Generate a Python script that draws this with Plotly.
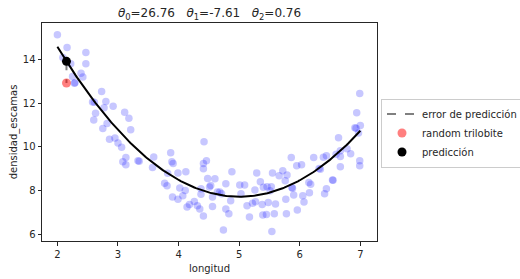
import plotly.graph_objects as go
import numpy as np

# data points (longitud, densidad_escamas)
longitud = [2.00, 2.16, 2.09, 2.47, 2.47, 2.22, 2.39, 2.42, 2.25, 2.28, 2.29,
            2.73, 2.58, 2.61, 2.80, 2.77, 2.92, 2.63, 2.60, 3.11, 3.18, 2.82,
            2.75, 3.21, 2.86, 2.95, 3.00, 3.06, 3.13, 3.08, 3.13, 3.33, 3.35,
            3.59, 3.57, 4.42, 3.87, 3.89, 3.91, 4.46, 4.41, 4.41, 3.82, 3.99,
            4.12, 4.88, 5.29, 3.77, 3.81, 4.02, 4.11, 4.07, 3.90, 3.99, 4.48,
            4.60, 4.37, 4.53, 4.51, 4.56, 4.64, 4.71, 4.68, 4.78, 4.86, 5.01,
            5.09, 5.03, 5.26, 5.35, 5.40, 5.13, 5.22, 5.27, 5.38, 5.17, 5.39,
            4.14, 4.18, 4.26, 4.31, 4.35, 4.41, 4.56, 4.78, 4.83, 4.74, 4.37,
            6.64, 6.97, 5.86, 5.95, 6.03, 6.23, 6.39, 6.44, 6.60, 6.67, 6.67,
            6.78, 6.84, 6.99, 6.99, 6.67, 6.34, 6.32, 6.54, 6.55, 6.44, 6.41,
            6.16, 6.15, 6.18, 6.05, 6.07, 5.96, 5.78, 5.77, 5.90, 5.87, 5.88,
            5.79, 5.72, 5.66, 5.55, 5.76, 5.53, 5.46, 5.51, 5.48, 5.60, 5.58,
            5.45, 5.54, 6.99, 6.94, 6.91, 7.00, 6.93]
densidad = [15.13, 14.55, 14.09, 14.32, 13.80, 13.80, 13.37, 13.19, 13.22, 12.91, 12.93,
            12.53, 12.05, 12.04, 12.07, 11.79, 11.85, 11.53, 11.22, 11.58, 11.31, 11.07,
            10.83, 10.78, 10.34, 10.40, 10.17, 9.98, 9.51, 9.31, 9.17, 9.36, 9.33,
            9.53, 9.05, 10.23, 9.72, 9.31, 9.23, 9.36, 9.23, 8.99, 8.79, 8.80,
            8.85, 8.85, 8.80, 8.33, 8.21, 8.11, 7.99, 7.75, 7.70, 7.59, 8.54,
            8.53, 8.08, 8.22, 8.15, 7.70, 7.93, 7.84, 7.92, 8.30, 7.52, 8.25,
            8.25, 7.85, 8.02, 8.39, 8.14, 7.29, 7.41, 7.48, 7.35, 6.78, 6.87,
            7.24, 7.35, 7.49, 7.29, 7.15, 6.83, 7.26, 7.15, 6.93, 6.18, 7.82,
            10.41, 10.63, 9.51, 9.13, 9.17, 9.51, 9.52, 9.59, 9.66, 9.82, 9.55,
            9.91, 9.68, 9.36, 9.13, 9.08, 8.97, 9.00, 8.48, 8.46, 8.07, 7.84,
            7.89, 8.36, 8.28, 7.75, 7.47, 7.10, 6.93, 7.59, 7.79, 8.13, 8.10,
            8.71, 8.90, 8.67, 8.80, 8.44, 8.17, 8.17, 7.98, 7.44, 7.38, 6.93,
            6.90, 6.11, 12.44, 11.56, 10.87, 10.97, 10.85]

# model parameters (from title)
theta = [26.76, -7.61, 0.76]

# random trilobite
random_x = 2.15
random_y = 12.92

font = "DejaVu Sans"

xs = np.linspace(min(longitud), max(longitud), 200)
curve = theta[0] + theta[1] * xs + theta[2] * xs ** 2
pred_y = theta[0] + theta[1] * random_x + theta[2] * random_x ** 2

fig = go.Figure()
fig.add_trace(go.Scatter(x=longitud, y=densidad, mode="markers",
                         marker=dict(size=7.5, color="rgba(0,0,255,0.22)", line=dict(width=0)),
                         showlegend=False, hoverinfo="skip"))
fig.add_trace(go.Scatter(x=xs, y=curve, mode="lines",
                         line=dict(color="black", width=2), showlegend=False))
fig.add_trace(go.Scatter(x=[random_x, random_x], y=[pred_y, random_y], mode="lines",
                         line=dict(color="grey", width=2, dash="dash"),
                         name="error de predicción"))
fig.add_trace(go.Scatter(x=[random_x], y=[random_y], mode="markers",
                         marker=dict(size=9, color="rgba(255,0,0,0.5)", line=dict(width=0)),
                         name="random trilobite"))
fig.add_trace(go.Scatter(x=[random_x], y=[pred_y], mode="markers",
                         marker=dict(size=9, color="black", line=dict(width=0)),
                         name="predicción"))

axis_common = dict(showline=True, linecolor="#262626", linewidth=1, mirror=True,
                   ticks="outside", ticklen=3.5, tickwidth=1, tickcolor="#262626",
                   showgrid=False, zeroline=False, automargin=False,
                   tickfont=dict(family=font, size=10, color="#262626"))

fig.update_layout(
    width=520, height=279,
    margin=dict(l=42, r=143, t=23, b=38),
    paper_bgcolor="white", plot_bgcolor="white",
    font=dict(family=font, size=10, color="#262626"),
    title=dict(text="<i>θ</i><sub>0</sub>=26.76   <i>θ</i><sub>1</sub>=-7.61   <i>θ</i><sub>2</sub>=0.76",
               x=(42 + 377) / 2 / 520, xanchor="center", y=1 - 13 / 279, yanchor="middle",
               font=dict(family=font, size=12, color="#262626")),
    xaxis=dict(range=[1.746, 7.275], tickvals=[2, 3, 4, 5, 6, 7],
               title=dict(text="longitud", standoff=6,
                          font=dict(family=font, size=10)), **axis_common),
    yaxis=dict(range=[5.68, 15.67], tickvals=[6, 8, 10, 12, 14],
               title=dict(text="densidad_escamas", standoff=3,
                          font=dict(family=font, size=10)), **axis_common),
    legend=dict(xref="container", yref="container",
                x=381 / 520, xanchor="left", y=1 - 133 / 279, yanchor="middle",
                bgcolor="white", bordercolor="#cccccc", borderwidth=1,
                font=dict(family=font, size=10, color="#262626"),
                tracegroupgap=0, itemwidth=30),
)

fig.write_html("out.html")
